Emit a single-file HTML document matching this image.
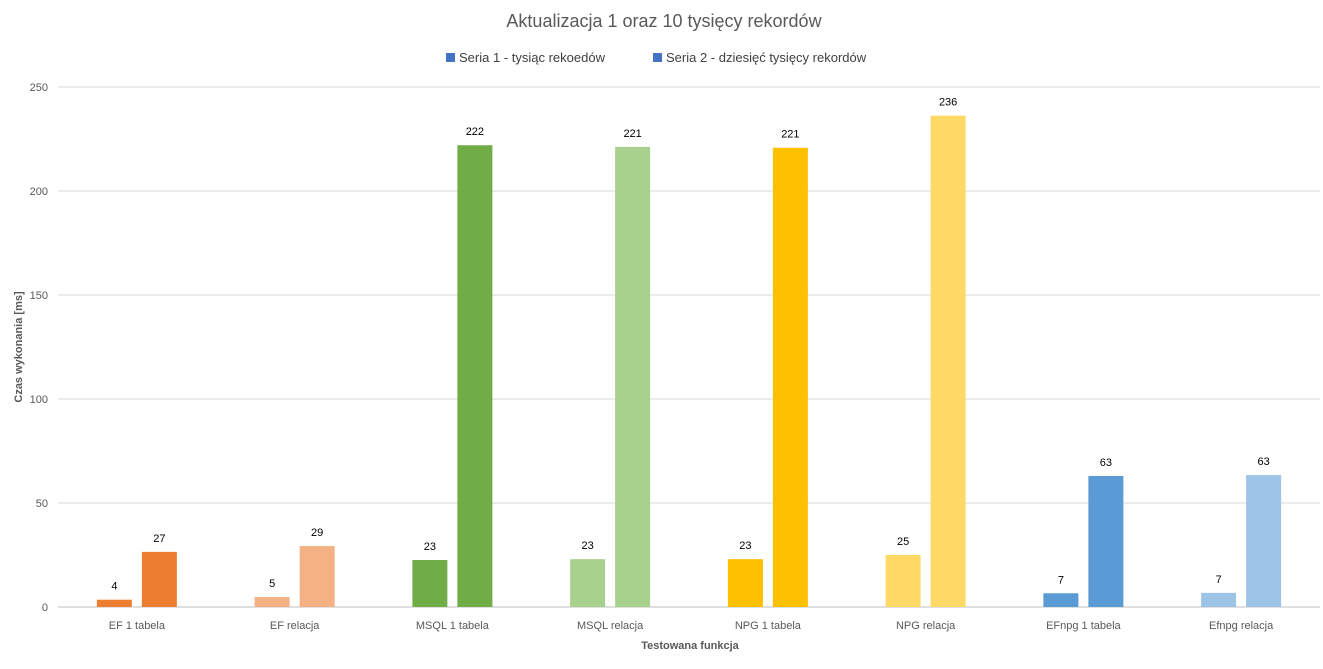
<!DOCTYPE html>
<html><head><meta charset="utf-8"><style>
body{margin:0;background:#fff;font-family:"Liberation Sans",sans-serif;}
svg text{font-family:"Liberation Sans",sans-serif;}
</style></head><body>
<svg id="chart" width="1323" height="664">
<text x="664" y="27" text-anchor="middle" font-size="18" fill="#595959">Aktualizacja 1 oraz 10 tysięcy rekordów</text>
<g>
<rect x="446" y="53" width="9" height="9" fill="#4472C4"/>
<text x="459" y="62" font-size="13" fill="#404040">Seria 1 - tysiąc rekoedów</text>
<rect x="653" y="53" width="9" height="9" fill="#4472C4"/>
<text x="666" y="62" font-size="13" fill="#404040">Seria 2 - dziesięć tysięcy rekordów</text>
</g>
<text transform="translate(22,347) rotate(-90)" text-anchor="middle" font-size="11" font-weight="bold" fill="#595959">Czas wykonania [ms]</text>
<text x="690" y="649" text-anchor="middle" font-size="11" font-weight="bold" fill="#595959">Testowana funkcja</text>
<g id="grid"></g><g id="bars"></g><g id="xlabels"></g>
</svg>
<script>
const categories=["EF 1 tabela","EF relacja","MSQL 1 tabela","MSQL relacja","NPG 1 tabela","NPG relacja","EFnpg 1 tabela","Efnpg relacja"];
const series1=[3.5,4.8,22.6,23,23,25,6.6,6.8];
const series2=[26.5,29.3,222,221.2,220.8,236.2,63,63.4];
const colors1=["#ED7D31","#F4B183","#70AD47","#A9D18E","#FFC000","#FFD966","#5B9BD5","#9DC3E6"];
const colors2=["#ED7D31","#F4B183","#70AD47","#A9D18E","#FFC000","#FFD966","#5B9BD5","#9DC3E6"];
const yTicks=[0,50,100,150,200,250];
const NS="http://www.w3.org/2000/svg";
const left=58,right=1320,y0=607,yTop=87,yMax=250;
const band=(right-left)/categories.length;
function y(v){return y0-(v/yMax)*(y0-yTop);}
function cx(i){return left+band*(i+0.5);}
function mk(tag,attrs,parent){const e=document.createElementNS(NS,tag);for(const k in attrs)e.setAttribute(k,attrs[k]);parent.appendChild(e);return e;}
const grid=document.getElementById('grid'),bars=document.getElementById('bars'),xl=document.getElementById('xlabels');
yTicks.forEach(t=>{
 const l=mk('line',{x1:left,x2:right,y1:y(t),y2:y(t),stroke:t===0?'#BFBFBF':'#D9D9D9','stroke-width':1},grid);
 
 
 const tx=mk('text',{x:48,y:y(t)+4,'text-anchor':'end','font-size':11,fill:'#595959'},grid);
 tx.textContent=t;
 
 
});
categories.forEach((c,i)=>{
 const c0=cx(i);
 [[series1,colors1,-40,'s1'],[series2,colors2,5,'s2']].forEach(([s,col,off,nm])=>{
  const v=s[i];
  const r=mk('rect',{x:c0+off,y:y(v),width:35,height:y0-y(v),fill:col[i]},bars);
  
  
  const t=mk('text',{x:c0+off+17.5,y:y(v)-10,'text-anchor':'middle','font-size':11,fill:'#000'},bars);
  t.textContent=Math.round(v);
  
  
 });
 const t=mk('text',{x:c0,y:629,'text-anchor':'middle','font-size':11,fill:'#595959'},xl);
 t.textContent=c;
 
 
});
</script>
</body></html>
